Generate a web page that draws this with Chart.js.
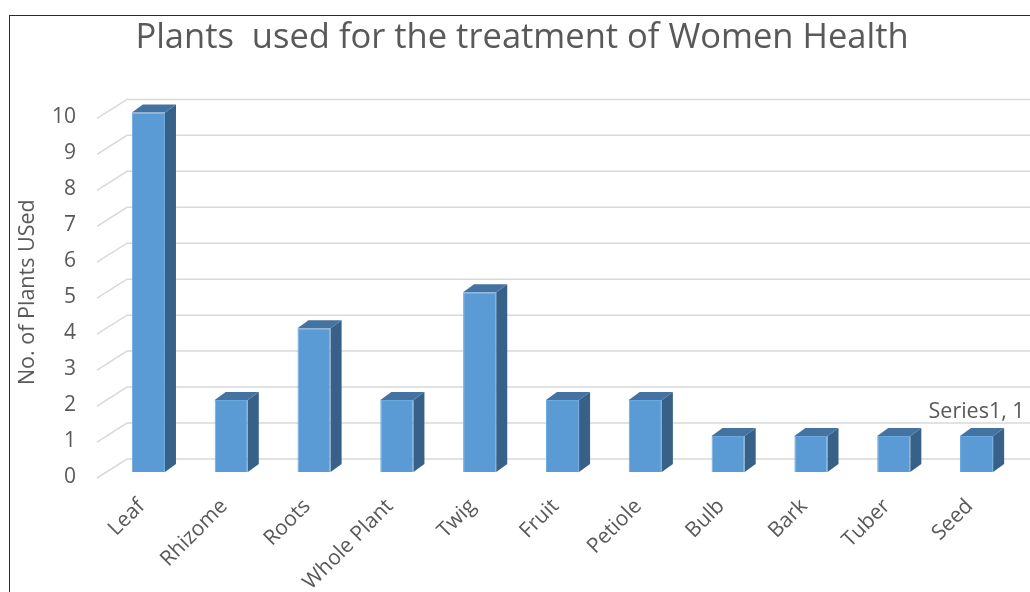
<!DOCTYPE html>
<html>
<head>
<meta charset="utf-8">
<script src="https://cdn.jsdelivr.net/npm/chart.js@4.4.1/dist/chart.umd.min.js"></script>
<style>
  html, body { margin: 0; padding: 0; background: #ffffff; }
  #wrap { position: relative; width: 1030px; height: 592px; }
  #frame {
    position: absolute; left: 9px; top: 15px; right: -2px; bottom: -2px;
    border-left: 1.5px solid #2b2b2b; border-top: 1.5px solid #2b2b2b;
    pointer-events: none;
  }
</style>
</head>
<body>
<div id="wrap">
  <canvas id="plantsChart" width="1030" height="592"></canvas>
  <div id="frame"></div>
</div>
<script>
// ------------------------------------------------------------
// Datos
// ------------------------------------------------------------
const categories = ["Leaf", "Rhizome", "Roots", "Whole Plant", "Twig", "Fruit",
                    "Petiole", "Bulb", "Bark", "Tuber", "Seed"];
const plantCounts = [10, 2, 4, 2, 5, 2, 2, 1, 1, 1, 1];
const yTickValues = [0, 1, 2, 3, 4, 5, 6, 7, 8, 9, 10];
const seriesName = "Series1";
const labelledIndex = 10;   // la barra con etiqueta de datos

const TEXT_COLOR = "#595959";
const GRID_COLOR = "#d9d9d9";
const FONT = "'Open Sans', sans-serif";

// Paredes / líneas de la cuadrícula en perspectiva
const gridWalls = {
    id: "gridWalls",
    beforeDatasetsDraw(chart) {
        const { ctx, chartArea, scales } = chart;
        const y = scales.y;
        ctx.save();
        ctx.strokeStyle = GRID_COLOR;
        ctx.lineWidth = 1.5;
        y.ticks.forEach(t => {
            const py = y.getPixelForValue(t.value);
            ctx.beginPath();
            ctx.moveTo(chartArea.left - 10, py + 6);
            ctx.lineTo(chartArea.left + 20, py - 13);
            ctx.lineTo(chart.width, py - 13);
            ctx.stroke();
        });
        ctx.restore();
    }
};

// Caras laterales y superiores de las barras (efecto 3D)
const bars3d = {
    id: "bars3d",
    afterDatasetsDraw(chart) {
        const { ctx } = chart;
        const meta = chart.getDatasetMeta(0);
        const dx = 11, dy = -8;
        ctx.save();
        meta.data.forEach((bar, i) => {
            const x0 = bar.x - bar.width / 2;
            const x1 = bar.x + bar.width / 2;
            const top = bar.y, base = bar.base;

            // cara lateral
            ctx.fillStyle = "#386189";
            ctx.beginPath();
            ctx.moveTo(x1, top);
            ctx.lineTo(x1 + dx, top + dy);
            ctx.lineTo(x1 + dx, base + dy);
            ctx.lineTo(x1, base);
            ctx.closePath();
            ctx.fill();

            // cara superior
            ctx.fillStyle = "#4473a1";
            ctx.beginPath();
            ctx.moveTo(x0, top);
            ctx.lineTo(x1, top);
            ctx.lineTo(x1 + dx, top + dy);
            ctx.lineTo(x0 + dx, top + dy);
            ctx.closePath();
            ctx.fill();

            if (i === labelledIndex) {
                ctx.fillStyle = TEXT_COLOR;
                ctx.font = "21.5px " + FONT;
                ctx.textAlign = "center";
                ctx.textBaseline = "alphabetic";
                ctx.fillText(seriesName + ", " + plantCounts[i], bar.x, top - 18);
            }
        });
        ctx.restore();
    }
};

new Chart(document.getElementById("plantsChart").getContext("2d"), {
    type: "bar",
    data: {
        labels: categories,
        datasets: [{
            label: seriesName,
            data: plantCounts,
            backgroundColor: "#5b9bd5",
            borderColor: "#6aa7dd",
            borderWidth: 1,
            barPercentage: 0.4,
            categoryPercentage: 1.0
        }]
    },
    options: {
        responsive: false,
        animation: false,
        layout: { padding: { left: 26, right: 12, top: 0, bottom: 0 } },
        scales: {
            x: {
                grid: { display: false, drawTicks: false },
                border: { display: false },
                ticks: {
                    color: TEXT_COLOR,
                    font: { family: FONT, size: 21 },
                    minRotation: 45,
                    maxRotation: 45,
                    padding: 22,
                    labelOffset: -7
                },
                afterFit(scale) { scale.height = 120; }
            },
            y: {
                min: 0,
                max: 10,
                grid: { display: false, drawTicks: false },
                border: { display: false },
                afterBuildTicks(scale) {
                    scale.ticks = yTickValues.map(v => ({ value: v }));
                },
                ticks: {
                    color: TEXT_COLOR,
                    font: { family: FONT, size: 21 },
                    padding: 31,
                    labelOffset: 5
                },
                title: {
                    display: true,
                    text: "No. of Plants USed",
                    color: TEXT_COLOR,
                    font: { family: FONT, size: 21.5 },
                    padding: { top: -11, bottom: 0 }
                },
                afterFit(scale) { scale.width = 81; }
            }
        },
        plugins: {
            legend: { display: false },
            tooltip: { enabled: false },
            title: {
                display: true,
                text: "Plants  used for the treatment of Women Health",
                color: TEXT_COLOR,
                font: { family: FONT, size: 34.5, weight: "normal", lineHeight: 1.2 },
                padding: { top: 17, bottom: 54 }
            }
        }
    },
    plugins: [gridWalls, bars3d]
});
</script>
</body>
</html>
